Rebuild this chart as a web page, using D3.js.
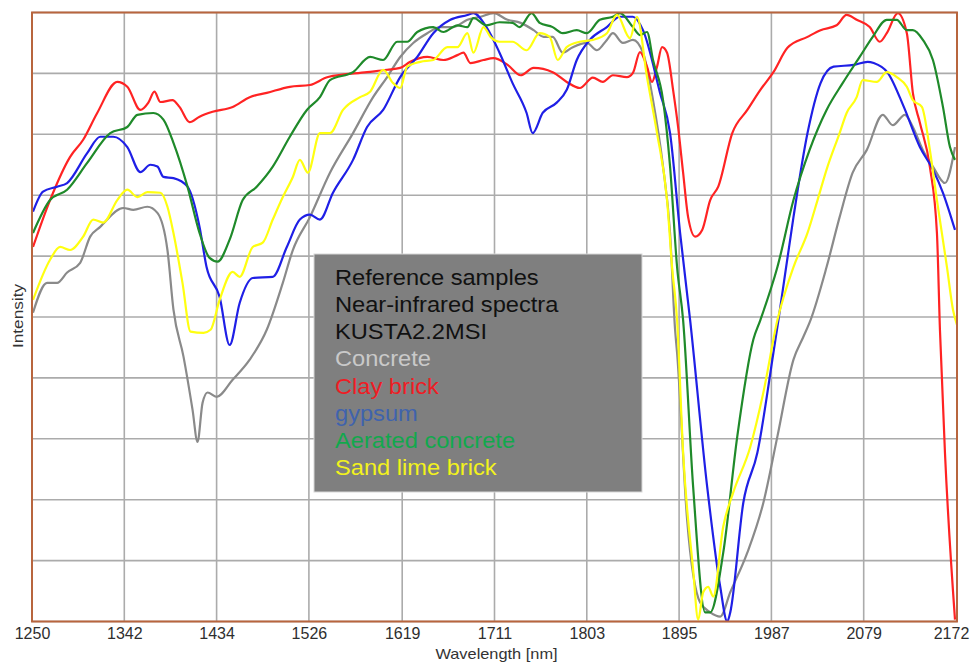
<!DOCTYPE html>
<html>
<head>
<meta charset="utf-8">
<script src="https://cdn.jsdelivr.net/npm/d3@7"></script>
<style>
  html, body { margin: 0; padding: 0; background: #ffffff; }
  svg { display: block; font-family: "Liberation Sans", Arial, sans-serif; }
</style>
</head>
<body>
<svg id="chart" width="973" height="664"></svg>
<script>
// ---------- data ----------
const xTicks = [1250, 1342, 1434, 1526, 1619, 1711, 1803, 1895, 1987, 2079, 2172];
const yGrid = [0, 10, 20, 30, 40, 50, 60, 70, 80, 90, 100];

const legendHeader = ["Reference samples", "Near-infrared spectra", "KUSTA2.2MSI"];
const seriesNames = ["Concrete", "Clay brick", "gypsum", "Aerated concrete", "Sand lime brick"];

// [wavelength nm, intensity %]
const concrete = [[1251,50.7],[1265,55.6],[1275,55.6],[1285,57.3],[1298,58.9],[1308,63.2],[1318,64.8],[1341,67.9],[1351,67.6],[1365,68.1],[1375,67.1],[1385,61.0],[1391,51.2],[1401,43.5],[1410,34.8],[1415,29.5],[1420,35.9],[1425,37.6],[1434,36.9],[1450,39.7],[1467,43.0],[1484,47.9],[1500,55.6],[1510,61.0],[1527,66.4],[1547,73.7],[1570,80.2],[1590,86.1],[1604,89.4],[1617,92.7],[1630,95.0],[1644,96.6],[1657,97.6],[1670,97.6],[1684,98.8],[1697,99.3],[1710,99.9],[1724,98.8],[1737,98.3],[1750,97.1],[1760,96.0],[1769,96.0],[1779,93.4],[1789,94.3],[1803,95.0],[1813,93.8],[1823,95.5],[1829,96.6],[1839,95.0],[1849,95.5],[1859,93.4],[1869,85.6],[1879,74.7],[1886,63.8],[1891,47.9],[1893,44.1],[1903,16.7],[1916,3.1],[1926,1.5],[1936,0.8],[1946,4.8],[1963,11.3],[1979,19.5],[1993,30.4],[2009,43.0],[2019,46.8],[2026,49.5],[2042,58.2],[2055,66.4],[2068,73.7],[2082,77.4],[2098,83.2],[2108,81.5],[2120,83.2],[2128,81.2],[2138,77.4],[2148,74.7],[2160,72.0],[2170,77.9]];

const clayBrick = [[1251,61.5],[1268,69.2],[1288,76.3],[1301,79.1],[1315,83.5],[1335,88.6],[1345,87.8],[1358,84.0],[1366,85.2],[1372,87.0],[1378,85.3],[1390,85.6],[1397,84.5],[1407,82.0],[1417,82.9],[1430,83.7],[1450,84.5],[1467,86.1],[1484,86.8],[1507,87.8],[1527,88.1],[1545,89.4],[1584,90.2],[1604,90.6],[1617,90.9],[1627,91.9],[1644,92.7],[1660,92.2],[1674,93.0],[1680,93.4],[1687,91.7],[1700,92.2],[1710,92.5],[1724,91.4],[1737,89.7],[1750,90.9],[1769,90.2],[1783,88.6],[1796,87.6],[1809,89.3],[1819,88.6],[1829,89.7],[1843,89.4],[1849,90.1],[1856,93.5],[1863,91.1],[1868,88.6],[1873,91.1],[1878,94.3],[1883,93.4],[1889,87.3],[1894,81.2],[1899,73.7],[1904,66.4],[1911,63.2],[1918,64.3],[1926,69.2],[1934,71.4],[1948,80.2],[1963,84.0],[1976,87.3],[1989,90.2],[2003,94.2],[2023,96.0],[2036,97.1],[2052,97.9],[2062,99.6],[2072,98.8],[2085,97.6],[2095,95.2],[2102,96.6],[2113,99.9],[2122,96.6],[2128,86.8],[2135,81.9],[2145,74.6],[2152,63.8],[2155,47.9],[2160,27.7],[2170,0.3]];

const gypsum = [[1251,67.3],[1261,70.6],[1275,71.4],[1285,72.0],[1305,76.9],[1318,79.6],[1331,79.6],[1345,77.9],[1358,73.8],[1368,75.0],[1375,74.7],[1381,73.0],[1391,72.8],[1405,71.4],[1417,64.8],[1424,58.2],[1437,53.3],[1447,45.4],[1457,52.3],[1470,56.4],[1490,56.6],[1504,61.5],[1517,66.0],[1527,66.8],[1537,66.0],[1550,70.4],[1570,75.8],[1584,81.2],[1600,84.0],[1617,89.4],[1634,92.7],[1650,96.6],[1667,98.8],[1684,99.6],[1690,99.9],[1703,97.6],[1716,93.4],[1729,88.4],[1743,83.5],[1749,80.2],[1759,83.5],[1773,85.2],[1783,87.3],[1793,92.2],[1806,95.5],[1823,97.6],[1836,99.3],[1849,99.3],[1859,97.1],[1876,86.8],[1886,80.2],[1896,63.8],[1906,49.5],[1923,22.1],[1936,5.7],[1943,0],[1946,1.5],[1959,19.5],[1973,27.7],[1989,44.1],[1994,49.5],[2009,66.4],[2023,80.2],[2036,88.4],[2049,91.1],[2069,91.4],[2083,91.9],[2089,91.7],[2103,90.1],[2119,84.5],[2135,77.9],[2148,74.2],[2158,70.4],[2170,64.3]];

const aeratedConcrete = [[1251,63.8],[1268,69.2],[1285,70.9],[1305,75.3],[1328,80.2],[1345,81.2],[1355,83.2],[1371,83.5],[1381,82.4],[1391,78.6],[1405,71.4],[1417,63.8],[1427,59.7],[1435,59.1],[1447,62.7],[1460,69.2],[1474,71.4],[1490,74.7],[1507,79.6],[1524,84.0],[1537,86.1],[1547,88.9],[1570,90.2],[1587,92.7],[1600,92.2],[1614,95.2],[1624,95.2],[1634,96.8],[1650,97.6],[1660,96.8],[1674,97.9],[1684,97.6],[1690,99.1],[1703,97.9],[1716,98.4],[1729,98.3],[1736,97.6],[1748,99.9],[1756,98.3],[1769,97.6],[1779,96.6],[1793,97.1],[1803,96.6],[1816,98.8],[1829,99.3],[1836,99.9],[1849,97.6],[1856,96.3],[1863,96.8],[1869,92.2],[1879,85.6],[1886,74.7],[1893,58.2],[1899,49.5],[1909,22.1],[1921,1.5],[1926,1.5],[1939,11.3],[1953,30.4],[1969,46.3],[1976,49.5],[1993,58.2],[2009,69.2],[2025,77.4],[2042,84.0],[2058,88.4],[2075,92.7],[2088,96.0],[2102,98.8],[2112,98.8],[2122,97.1],[2128,97.1],[2138,95.5],[2148,92.2],[2158,84.5],[2165,77.9],[2170,75.8]];

const sandLimeBrick = [[1251,52.8],[1268,59.4],[1278,61.5],[1288,61.0],[1301,63.2],[1311,66.0],[1321,65.5],[1335,69.2],[1345,70.9],[1355,69.7],[1365,70.5],[1378,70.4],[1385,68.1],[1391,63.8],[1400,55.6],[1408,47.6],[1421,47.4],[1428,47.9],[1437,52.8],[1450,57.4],[1457,56.6],[1470,61.5],[1480,62.2],[1490,66.0],[1500,69.7],[1510,73.0],[1517,75.8],[1525,73.7],[1537,80.2],[1547,80.2],[1560,84.0],[1577,86.1],[1587,87.0],[1600,90.6],[1610,88.4],[1617,87.6],[1624,91.1],[1637,91.9],[1650,92.2],[1664,94.3],[1674,94.3],[1684,96.6],[1690,93.4],[1700,97.6],[1707,96.0],[1716,95.2],[1729,95.2],[1743,93.8],[1756,96.6],[1766,96.0],[1774,92.2],[1783,94.3],[1796,95.2],[1809,95.5],[1823,96.6],[1833,99.6],[1846,95.8],[1853,99.3],[1863,89.4],[1873,80.2],[1883,69.2],[1888,58.2],[1893,49.5],[1899,27.7],[1909,8.5],[1914,0.3],[1919,4.8],[1924,5.7],[1929,4.1],[1939,15.6],[1949,21.2],[1966,28.7],[1979,37.6],[1993,49.5],[2009,58.2],[2023,63.8],[2033,69.2],[2042,74.2],[2055,80.2],[2062,83.5],[2072,86.1],[2078,88.9],[2092,88.6],[2102,90.2],[2112,89.4],[2122,87.8],[2128,85.6],[2137,84.5],[2145,77.4],[2152,69.2],[2162,58.2],[2168,51.2],[2172,48.7]];

const seriesData = [concrete, clayBrick, gypsum, aeratedConcrete, sandLimeBrick];
const lineColors = ["#8a8a8a", "#ff2323", "#1f1fe6", "#1f8a2a", "#ffff10"];
const legendColors = ["#c9c9c9", "#ee1c24", "#3f63ad", "#12a84d", "#f2f21c"];

// ---------- layout ----------
const W = 973, H = 664;
const m = { left: 32, right: 957, top: 12.5, bottom: 621.5 };

const svg = d3.select("#chart");
const x = d3.scaleLinear().domain([1250, 2172]).range([m.left, m.right]);
const y = d3.scaleLinear().domain([0, 100]).range([m.bottom, m.top]);

// grid
const grid = svg.append("g");
grid.selectAll("line.vx").data(xTicks).join("line")
  .attr("x1", d => x(d)).attr("x2", d => x(d))
  .attr("y1", m.top).attr("y2", m.bottom)
  .attr("stroke", "#ababab").attr("stroke-width", 1.6);
grid.selectAll("line.hy").data(yGrid).join("line")
  .attr("x1", m.left).attr("x2", m.right)
  .attr("y1", d => y(d)).attr("y2", d => y(d))
  .attr("stroke", "#ababab").attr("stroke-width", 1.6);

// clip
svg.append("clipPath").attr("id", "clip").append("rect")
  .attr("x", m.left).attr("y", m.top)
  .attr("width", m.right - m.left).attr("height", m.bottom - m.top);

const line = d3.line()
  .x(d => x(d[0])).y(d => y(d[1]))
  .curve(d3.curveMonotoneX);

const lines = svg.append("g").attr("clip-path", "url(#clip)");
seriesData.forEach((s, i) => {
  lines.append("path")
    .datum(s)
    .attr("d", line)
    .attr("fill", "none")
    .attr("stroke", lineColors[i])
    .attr("stroke-width", 2.2)
    .attr("stroke-linejoin", "round");
});

// frame
svg.append("rect")
  .attr("x", m.left).attr("y", m.top)
  .attr("width", m.right - m.left).attr("height", m.bottom - m.top)
  .attr("fill", "none").attr("stroke", "#b8653e").attr("stroke-width", 2);

// x axis
const xAxis = d3.axisBottom(x).tickValues(xTicks).tickFormat(d3.format("d")).tickSize(0).tickPadding(6);
const xg = svg.append("g").attr("transform", `translate(0,${m.bottom})`).call(xAxis);
xg.select(".domain").remove();
xg.selectAll("text")
  .attr("font-family", "'Liberation Sans', Arial, sans-serif")
  .attr("font-size", 16)
  .attr("fill", "#2e2e2e")
  .attr("dy", "0.7em");
// keep the last label inside the window
xg.selectAll(".tick").filter(d => d === xTicks[xTicks.length - 1])
  .select("text").attr("dx", -6);

// axis titles
svg.append("text")
  .attr("transform", `translate(${(m.left + m.right) / 2 + 2},659) scale(1.17,1)`)
  .attr("text-anchor", "middle")
  .attr("font-size", 14)
  .attr("fill", "#333")
  .text("Wavelength [nm]");

svg.append("text")
  .attr("transform", "translate(23,316) rotate(-90)")
  .attr("text-anchor", "middle")
  .attr("font-size", 14)
  .attr("fill", "#333")
  .attr("textLength", 64)
  .attr("lengthAdjust", "spacingAndGlyphs")
  .text("Intensity");

// legend box
const lg = svg.append("g");
lg.append("rect")
  .attr("x", 314).attr("y", 254).attr("width", 328).attr("height", 238)
  .attr("fill", "#7f7f7f").attr("stroke", "#d8d8d8").attr("stroke-width", 1);

const legendLines = legendHeader.map(t => ({ t, c: "#111111" }))
  .concat(seriesNames.map((t, i) => ({ t, c: legendColors[i] })));

lg.selectAll("text").data(legendLines).join("text")
  .attr("transform", (d, i) => `translate(335,${285 + i * 27.15}) scale(1.1,1)`)
  .attr("font-size", 21.5)
  .attr("fill", d => d.c)
  .text(d => d.t);
</script>
</body>
</html>
